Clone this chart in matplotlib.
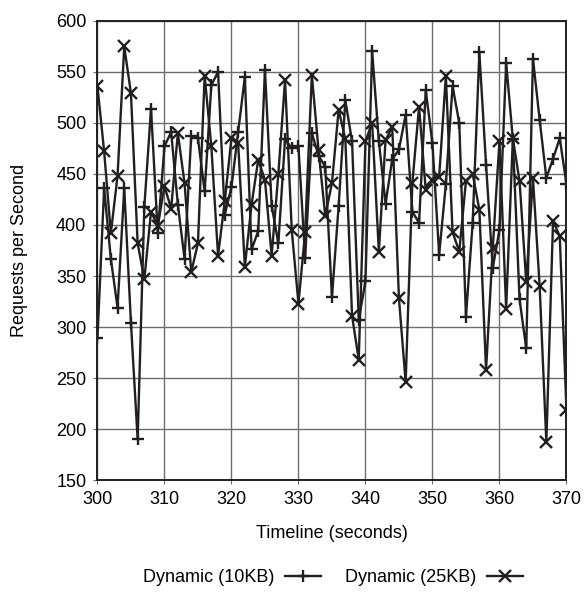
import matplotlib
matplotlib.use("Agg")
import matplotlib.pyplot as plt

seconds = list(range(300, 371))

dyn_10kb = [289, 436, 367, 319, 436, 304, 190, 418, 514, 392,
            477, 491, 420, 367, 487, 485, 433, 537, 550, 410,
            437, 491, 545, 376, 394, 552, 419, 382, 484, 475,
            477, 368, 490, 468, 457, 329, 419, 522, 482, 307,
            345, 570, 482, 421, 464, 474, 508, 413, 402, 532,
            480, 371, 440, 536, 500, 310, 402, 569, 459, 358,
            395, 559, 484, 327, 279, 563, 503, 446, 465, 485,
            440]

dyn_25kb = [536, 472, 392, 448, 575, 529, 382, 347, 413, 399,
            438, 416, 490, 441, 354, 382, 546, 477, 370, 423,
            485, 480, 359, 420, 464, 444, 370, 450, 542, 395,
            323, 393, 547, 473, 409, 441, 513, 484, 311, 268,
            482, 500, 374, 483, 496, 328, 246, 441, 516, 434,
            444, 447, 546, 393, 374, 443, 450, 415, 258, 377,
            482, 318, 485, 443, 344, 446, 340, 187, 404, 389,
            219]

x_ticks = list(range(300, 371, 10))
y_ticks = list(range(150, 601, 50))

plt.rcParams["font.family"] = ["Liberation Sans", "DejaVu Sans"]

fig = plt.figure(figsize=(5.87, 5.95), dpi=100)
ax = fig.add_axes([0.166, 0.193, 0.799, 0.772])

ax.plot(seconds, dyn_10kb, color="#231f20", lw=1.7, marker="+",
        ms=9, mew=1.7, label="Dynamic (10KB)")
ax.plot(seconds, dyn_25kb, color="#231f20", lw=1.7, marker="x",
        ms=8, mew=1.7, label="Dynamic (25KB)")

ax.set_xlim(300, 370)
ax.set_ylim(150, 600)
ax.set_xticks(x_ticks)
ax.set_yticks(y_ticks)
ax.grid(True, color="#6d6d6d", lw=1.0)
ax.set_axisbelow(True)
for s in ax.spines.values():
    s.set_color("#231f20")
    s.set_linewidth(1.4)
ax.tick_params(labelsize=13, length=3, color="#6d6d6d", pad=5)

ax.set_xlabel("Timeline (seconds)", fontsize=13, labelpad=12)
ax.set_ylabel("Requests per Second", fontsize=13, labelpad=20)

fig.legend(loc="lower center", bbox_to_anchor=(0.567, -0.012), ncol=2,
           frameon=False, markerfirst=False, fontsize=13,
           handlelength=2.0, handletextpad=0.6, columnspacing=1.3)

fig.savefig("out.png", dpi=100)
